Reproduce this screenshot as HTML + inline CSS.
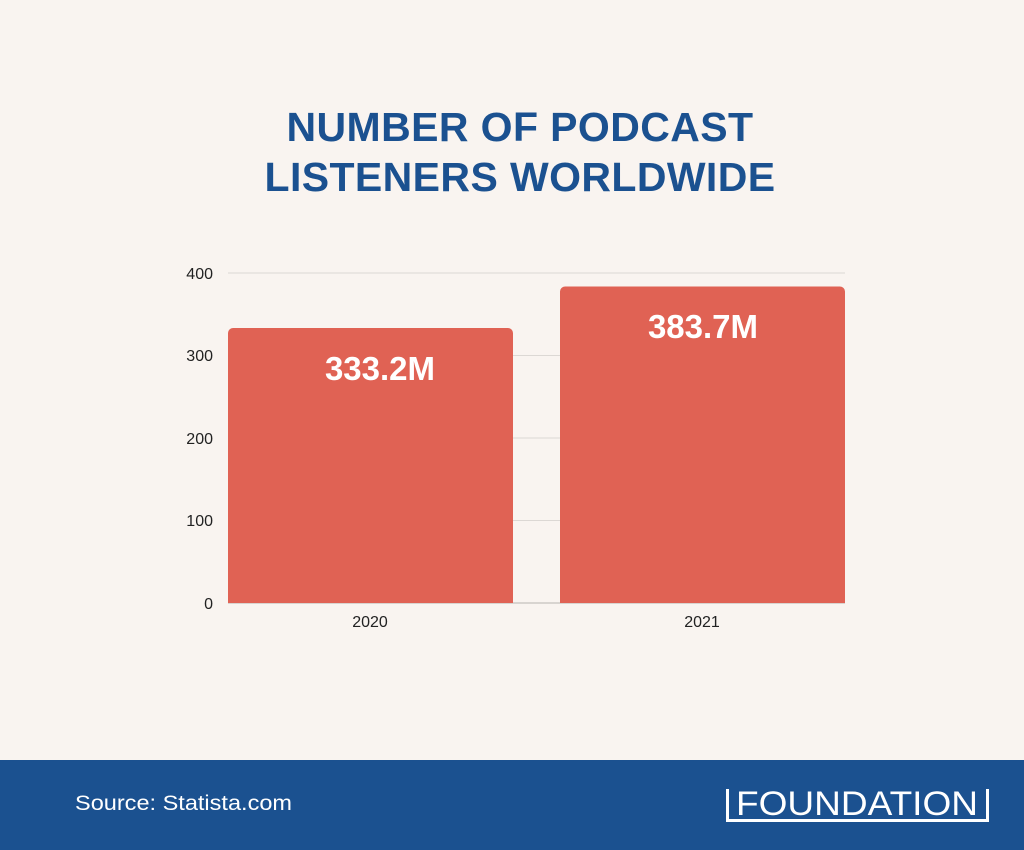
<!DOCTYPE html>
<html><head><style>
body{margin:0;width:1024px;height:850px;background:#f9f4f0;position:relative;overflow:hidden;font-family:"Liberation Sans",sans-serif}
.t{position:absolute;left:8px;width:1024px;text-align:center;color:#1b5190;font-weight:bold;font-size:41px;line-height:50px;letter-spacing:0.4px}
.foot{position:absolute;left:0;top:760px;width:1024px;height:90px;background:#1b5190}
</style></head><body>
<div class="t" style="top:102px">NUMBER OF PODCAST</div>
<div class="t" style="top:152px">LISTENERS WORLDWIDE</div>
<svg width="1024" height="850" style="position:absolute;left:0;top:0" font-family="Liberation Sans, sans-serif">
<g stroke="#dcd8d4" stroke-width="1">
<line x1="228" y1="273" x2="845" y2="273"/><line x1="228" y1="355.5" x2="845" y2="355.5"/>
<line x1="228" y1="438" x2="845" y2="438"/><line x1="228" y1="520.5" x2="845" y2="520.5"/>
</g>
<line x1="228" y1="603" x2="845" y2="603" stroke="#b8b4b0"/>
<g font-size="16" fill="#222" text-anchor="end">
<text x="213" y="279">400</text><text x="213" y="361">300</text><text x="213" y="444">200</text><text x="213" y="526">100</text><text x="213" y="609">0</text>
</g>
<path d="M228 603V333a5 5 0 0 1 5-5h275a5 5 0 0 1 5 5V603Z" fill="#e06254"/>
<path d="M560 603V291.5a5 5 0 0 1 5-5h275a5 5 0 0 1 5 5V603Z" fill="#e06254"/>
<g font-size="33" font-weight="bold" fill="#fff" text-anchor="middle">
<text x="380" y="380">333.2M</text><text x="703" y="338">383.7M</text>
</g>
<g font-size="16" fill="#222" text-anchor="middle">
<text x="370" y="627">2020</text><text x="702" y="627">2021</text>
</g>
</svg>
<div class="foot"></div>
<svg width="1024" height="850" style="position:absolute;left:0;top:0" font-family="Liberation Sans, sans-serif">
<text x="75" y="810" font-size="21" fill="#fff" textLength="217" lengthAdjust="spacingAndGlyphs">Source: Statista.com</text>
<path d="M727.5 789V820.5H987.5V789" fill="none" stroke="#fff" stroke-width="3"/>
<text x="857" y="815" font-size="34" fill="#fff" text-anchor="middle" textLength="242" lengthAdjust="spacingAndGlyphs">FOUNDATION</text>
</svg>
</body></html>
